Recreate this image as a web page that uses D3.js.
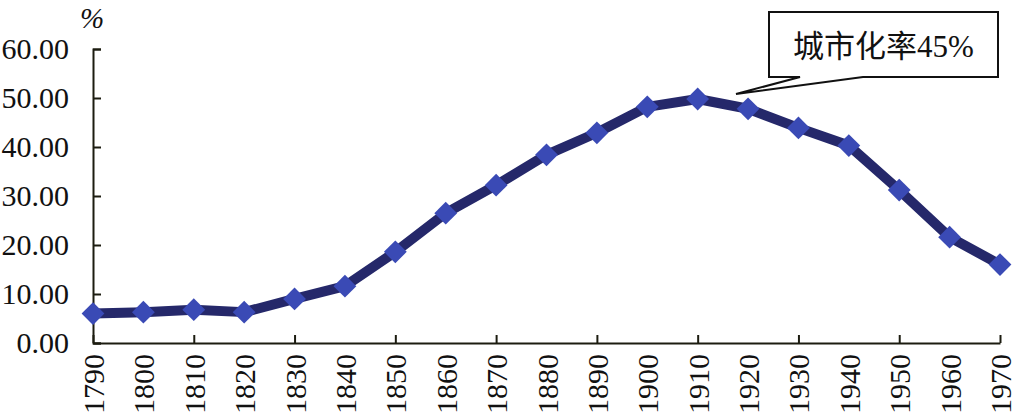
<!DOCTYPE html>
<html>
<head>
<meta charset="utf-8">
<script src="https://cdn.jsdelivr.net/npm/d3@7"></script>
<style>
  body { margin: 0; background: #fff; }
  svg text { font-family: "Liberation Serif", "Times New Roman", "Noto Sans CJK SC", serif; fill: #111; }
</style>
</head>
<body>
<svg id="chart"></svg>
<script>
// 城市化率 (%)
const years = [1790, 1800, 1810, 1820, 1830, 1840, 1850, 1860, 1870, 1880,
               1890, 1900, 1910, 1920, 1930, 1940, 1950, 1960, 1970];
const rates = [6.0, 6.3, 6.8, 6.3, 9.0, 11.6, 18.6, 26.5, 32.2, 38.4,
               42.9, 48.2, 49.8, 47.8, 43.9, 40.3, 31.2, 21.6, 16.0];
const yTicks = [0, 10, 20, 30, 40, 50, 60];
const calloutText = "城市化率45%";
const unitLabel = "%";

const width = 1013, height = 414;
const svg = d3.select("#chart").attr("width", width).attr("height", height);

const x = d3.scalePoint().domain(years).range([93, 1000]);
const y = d3.scaleLinear().domain([0, 60]).range([343, 49]);

// y axis, ticks pointing inward
const yAxis = svg.append("g")
  .attr("transform", "translate(93,0)")
  .call(d3.axisLeft(y).tickValues(yTicks).tickFormat(d3.format(".2f"))
    .tickSizeInner(-8).tickSizeOuter(-8).tickPadding(24));
yAxis.selectAll("text").style("font-size", "30px");

// x axis, a tick mark every other year
const xAxis = svg.append("g")
  .attr("transform", "translate(0,343)")
  .call(d3.axisBottom(x).tickSizeInner(-8).tickSizeOuter(0));
xAxis.selectAll(".tick line").attr("opacity", (d, i) => i % 2 === 0 ? 1 : 0);
xAxis.selectAll("text")
  .style("font-size", "30px")
  .style("text-anchor", "end")
  .attr("transform", "rotate(-90)")
  .attr("x", -11).attr("y", 0).attr("dy", "0.35em");

svg.selectAll(".domain, .tick line").attr("stroke", "#1c1c10").attr("stroke-width", 2);

svg.append("text").attr("x", 80).attr("y", 28)
  .style("font-size", "29px").style("font-style", "italic").text(unitLabel);

// line
const line = d3.line().x((d, i) => x(years[i])).y(d => y(d));
svg.append("path").datum(rates)
  .attr("d", line)
  .attr("fill", "none")
  .attr("stroke", "#25286a")
  .attr("stroke-width", 10)
  .attr("stroke-linejoin", "round");

svg.selectAll(".pt").data(rates).enter().append("path")
  .attr("class", "pt")
  .attr("d", d3.symbol(d3.symbolSquare, 260))
  .attr("transform", (d, i) => `translate(${x(years[i])},${y(d)}) rotate(45)`)
  .attr("fill", "#3a4ab5");

// callout
const bx0 = 769, bx1 = 998, by0 = 12, by1 = 77;
const tip = [736, 94];
const callout = d3.path();
callout.moveTo(bx0, by0);
callout.lineTo(bx1, by0);
callout.lineTo(bx1, by1);
callout.lineTo(863, by1);
callout.lineTo(tip[0], tip[1]);
callout.lineTo(800, by1);
callout.lineTo(bx0, by1);
callout.closePath();
svg.append("path").attr("d", callout.toString())
  .attr("fill", "#fff").attr("stroke", "#111").attr("stroke-width", 2);
svg.append("text").attr("x", (bx0 + bx1) / 2).attr("y", by0 + 45)
  .attr("text-anchor", "middle").style("font-size", "31px").text(calloutText);
</script>
</body>
</html>
